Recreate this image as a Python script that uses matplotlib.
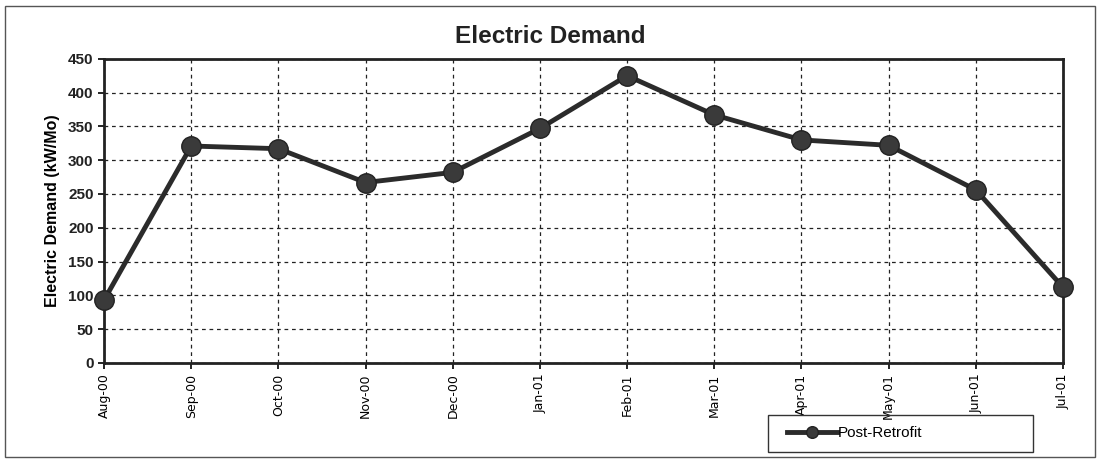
import matplotlib.pyplot as plt
from matplotlib.patches import Rectangle

months = ["Aug-00", "Sep-00", "Oct-00", "Nov-00", "Dec-00", "Jan-01",
          "Feb-01", "Mar-01", "Apr-01", "May-01", "Jun-01", "Jul-01"]
demand = [93, 321, 317, 267, 282, 347, 425, 367, 330, 322, 256, 112]
y_ticks = [0, 50, 100, 150, 200, 250, 300, 350, 400, 450]

plt.rcParams['font.family'] = ['Liberation Sans', 'DejaVu Sans']

fig = plt.figure(figsize=(11.01, 4.63), dpi=100)
ax = fig.add_axes([0.0945, 0.216, 0.871, 0.657])

x = list(range(len(months)))
ax.plot(x, demand, color="#2b2b2b", lw=3.5, marker="o", ms=14,
        markerfacecolor="#3a3a3a", markeredgecolor="#222222",
        label="Post-Retrofit", clip_on=False, zorder=3)

ax.set_xlim(0, len(months) - 1)
ax.set_ylim(0, 450)
ax.set_yticks(y_ticks)
ax.set_xticks(x)
ax.set_xticklabels(months, rotation=90, fontsize=9,
                   family=['Liberation Sans Narrow', 'DejaVu Sans'])
ax.tick_params(axis='y', labelsize=11, length=4, width=1.2)
ax.tick_params(axis='x', length=4, width=1.2)
for lab in ax.get_yticklabels():
    lab.set_fontweight("bold")
    lab.set_color("#222222")

ax.grid(True, color="#222222", linestyle=(0, (3, 3)), lw=0.9)
for s in ax.spines.values():
    s.set_linewidth(2)
    s.set_color("#222222")

ax.set_ylabel("Electric Demand (kW/Mo)", fontsize=11.5, fontweight="bold",
              labelpad=6)
fig.text(0.5, 0.922, "Electric Demand", ha="center", va="center",
         fontsize=17.5, fontweight="bold", color="#222222")

# legend entry without frame, box drawn separately
fig.legend(loc="center left", bbox_to_anchor=(787 / 1101, 1 - 433 / 463),
           borderaxespad=0, borderpad=0, frameon=False, fontsize=11,
           handlelength=3.3, markerscale=0.6, handletextpad=0.0)
fig.patches.append(Rectangle((768 / 1101, 11 / 463), 265 / 1101, 37 / 463,
                             transform=fig.transFigure, fill=False,
                             edgecolor="#333333", lw=1))

fig.patches.append(Rectangle((5 / 1101, 6 / 463), 1090 / 1101, 451 / 463,
                             transform=fig.transFigure, fill=False,
                             edgecolor="#555555", lw=1))

fig.savefig("out.png", dpi=100)
